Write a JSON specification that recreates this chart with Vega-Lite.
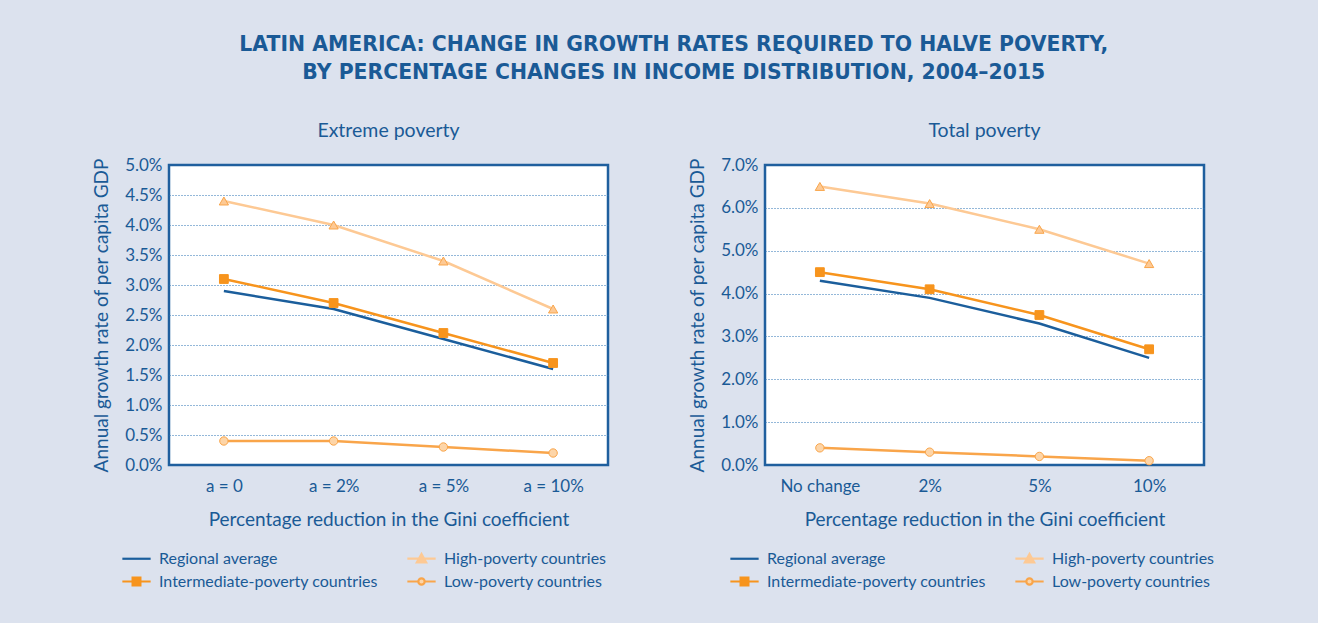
{
  "$schema": "https://vega.github.io/schema/vega-lite/v6.json",
  "padding": {"left": 91, "top": 34, "right": 106, "bottom": 33},
  "background": "#dce2ee",
  "title": {
    "text": ["LATIN AMERICA: CHANGE IN GROWTH RATES REQUIRED TO HALVE POVERTY,", "BY PERCENTAGE CHANGES IN INCOME DISTRIBUTION, 2004–2015"],
    "fontSize": 20.4, "font": "DejaVu Sans", "fontWeight": "bold", "color": "#1a5a96",
    "lineHeight": 28, "anchor": "middle", "offset": 36, "dx": 20
  },
  "datasets": {
    "extreme": [
      {"reduction": "a = 0", "series": "Regional average", "value": 2.9},
      {"reduction": "a = 2%", "series": "Regional average", "value": 2.6},
      {"reduction": "a = 5%", "series": "Regional average", "value": 2.1},
      {"reduction": "a = 10%", "series": "Regional average", "value": 1.6},
      {"reduction": "a = 0", "series": "Intermediate-poverty countries", "value": 3.1},
      {"reduction": "a = 2%", "series": "Intermediate-poverty countries", "value": 2.7},
      {"reduction": "a = 5%", "series": "Intermediate-poverty countries", "value": 2.2},
      {"reduction": "a = 10%", "series": "Intermediate-poverty countries", "value": 1.7},
      {"reduction": "a = 0", "series": "High-poverty countries", "value": 4.4},
      {"reduction": "a = 2%", "series": "High-poverty countries", "value": 4.0},
      {"reduction": "a = 5%", "series": "High-poverty countries", "value": 3.4},
      {"reduction": "a = 10%", "series": "High-poverty countries", "value": 2.6},
      {"reduction": "a = 0", "series": "Low-poverty countries", "value": 0.4},
      {"reduction": "a = 2%", "series": "Low-poverty countries", "value": 0.4},
      {"reduction": "a = 5%", "series": "Low-poverty countries", "value": 0.3},
      {"reduction": "a = 10%", "series": "Low-poverty countries", "value": 0.2}
    ],
    "total": [
      {"reduction": "No change", "series": "Regional average", "value": 4.3},
      {"reduction": "2%", "series": "Regional average", "value": 3.9},
      {"reduction": "5%", "series": "Regional average", "value": 3.3},
      {"reduction": "10%", "series": "Regional average", "value": 2.5},
      {"reduction": "No change", "series": "Intermediate-poverty countries", "value": 4.5},
      {"reduction": "2%", "series": "Intermediate-poverty countries", "value": 4.1},
      {"reduction": "5%", "series": "Intermediate-poverty countries", "value": 3.5},
      {"reduction": "10%", "series": "Intermediate-poverty countries", "value": 2.7},
      {"reduction": "No change", "series": "High-poverty countries", "value": 6.5},
      {"reduction": "2%", "series": "High-poverty countries", "value": 6.1},
      {"reduction": "5%", "series": "High-poverty countries", "value": 5.5},
      {"reduction": "10%", "series": "High-poverty countries", "value": 4.7},
      {"reduction": "No change", "series": "Low-poverty countries", "value": 0.4},
      {"reduction": "2%", "series": "Low-poverty countries", "value": 0.3},
      {"reduction": "5%", "series": "Low-poverty countries", "value": 0.2},
      {"reduction": "10%", "series": "Low-poverty countries", "value": 0.1}
    ]
  },
  "spacing": 77,
  "resolve": {"scale": {"color": "independent", "y": "independent", "x": "independent"}},
  "hconcat": [
    {
      "width": 439, "height": 300,
      "title": {"text": "Extreme poverty", "fontSize": 19.5, "fontWeight": "normal", "color": "#1a5a96", "font": "Lato", "offset": 15},
      "data": {"name": "extreme"},
      "encoding": {
        "x": {"field": "reduction", "type": "ordinal", "sort": ["a = 0", "a = 2%", "a = 5%", "a = 10%"], "scale": {"type": "point", "padding": 0.5},
          "axis": {"title": "Percentage reduction in the Gini coefficient", "labelAngle": 0, "grid": false, "labelPadding": 13, "titlePadding": 16}},
        "y": {"field": "value", "type": "quantitative", "scale": {"domain": [0, 5], "nice": false},
          "axis": {"title": "Annual growth rate of per capita GDP", "values": [0, 0.5, 1, 1.5, 2, 2.5, 3, 3.5, 4, 4.5, 5], "labelExpr": "format(datum.value, '.1f') + '%'", "labelPadding": 7, "titlePadding": 13,
            "gridOpacity": {"condition": {"test": "datum.value === 0 || datum.value === 5", "value": 0}, "value": 1}}}
      },
      "layer": [
        {
          "mark": {"type": "line", "strokeWidth": 2.5},
          "encoding": {
            "color": {"field": "series", "type": "nominal",
              "scale": {"domain": ["Regional average", "Intermediate-poverty countries", "High-poverty countries", "Low-poverty countries"], "range": ["#1b5e9c", "#f7941d", "#fdc994", "#f9a54a"]},
              "legend": {"title": null, "orient": "none", "legendX": -41, "legendY": 385, "columns": 2, "columnPadding": 24, "rowPadding": 6, "symbolSize": 200, "labelOffset": 14, "labelFontSize": 16, "labelLimit": 400, "labelColor": "#1a5a96", "labelFont": "Lato", "padding": 0,
                "encode": {"symbols": {"update": {
                  "shape": {"signal": "datum.value === 'Regional average' ? 'M-2,0H2' : datum.value === 'Intermediate-poverty countries' ? 'M-2,0H2M-0.55,-0.55H0.55V0.55H-0.55Z' : datum.value === 'High-poverty countries' ? 'M-2,0H-0.36M0.36,0H2M0,-0.65L0.66,0.55H-0.66Z' : 'M-2,0H-0.45M0.45,0H2M-0.45,0A0.45,0.45 0 1,1 0.45,0A0.45,0.45 0 1,1 -0.45,0Z'"},
                  "fill": {"signal": "datum.value === 'Regional average' ? 'transparent' : datum.value === 'Intermediate-poverty countries' ? '#f7941d' : datum.value === 'High-poverty countries' ? '#fdc994' : '#fdd5a8'"},
                  "stroke": {"signal": "datum.value === 'Regional average' ? '#1b5e9c' : datum.value === 'Intermediate-poverty countries' ? '#f7941d' : datum.value === 'High-poverty countries' ? '#fcc08a' : '#f9a54a'"},
                  "strokeWidth": {"value": 2.2},
                  "opacity": {"value": 1}
                }}}}
            },
            "strokeWidth": {"field": "series", "type": "nominal", "scale": {"domain": ["Regional average", "Intermediate-poverty countries", "High-poverty countries", "Low-poverty countries"], "range": [2.6, 2.6, 2.2, 2.2]}, "legend": null}
          }
        },
        {
          "transform": [{"filter": "datum.series !== 'Regional average'"}],
          "mark": {"type": "point", "filled": true, "strokeWidth": 1, "opacity": 1},
          "encoding": {
            "shape": {"field": "series", "type": "nominal", "scale": {"domain": ["High-poverty countries", "Intermediate-poverty countries", "Low-poverty countries"], "range": ["triangle-up", "square", "circle"]}, "legend": null},
            "fill": {"field": "series", "type": "nominal", "scale": {"domain": ["High-poverty countries", "Intermediate-poverty countries", "Low-poverty countries"], "range": ["#fdc994", "#f7941d", "#fdd5a8"]}, "legend": null},
            "stroke": {"field": "series", "type": "nominal", "scale": {"domain": ["High-poverty countries", "Intermediate-poverty countries", "Low-poverty countries"], "range": ["#f9a54a", "#f7941d", "#f9a54a"]}, "legend": null},
            "size": {"field": "series", "type": "nominal", "scale": {"domain": ["High-poverty countries", "Intermediate-poverty countries", "Low-poverty countries"], "range": [85, 70, 50]}, "legend": null}
          }
        }
      ]
    },
    {
      "width": 439, "height": 300,
      "title": {"text": "Total poverty", "fontSize": 19.5, "fontWeight": "normal", "color": "#1a5a96", "font": "Lato", "offset": 15},
      "data": {"name": "total"},
      "encoding": {
        "x": {"field": "reduction", "type": "ordinal", "sort": ["No change", "2%", "5%", "10%"], "scale": {"type": "point", "padding": 0.5},
          "axis": {"title": "Percentage reduction in the Gini coefficient", "labelAngle": 0, "grid": false, "labelPadding": 13, "titlePadding": 16}},
        "y": {"field": "value", "type": "quantitative", "scale": {"domain": [0, 7], "nice": false},
          "axis": {"title": "Annual growth rate of per capita GDP", "values": [0, 1, 2, 3, 4, 5, 6, 7], "labelExpr": "format(datum.value, '.1f') + '%'", "labelPadding": 7, "titlePadding": 13,
            "gridOpacity": {"condition": {"test": "datum.value === 0 || datum.value === 7", "value": 0}, "value": 1}}}
      },
      "layer": [
        {
          "mark": {"type": "line", "strokeWidth": 2.5},
          "encoding": {
            "color": {"field": "series", "type": "nominal",
              "scale": {"domain": ["Regional average", "Intermediate-poverty countries", "High-poverty countries", "Low-poverty countries"], "range": ["#1b5e9c", "#f7941d", "#fdc994", "#f9a54a"]},
              "legend": {"title": null, "orient": "none", "legendX": -29, "legendY": 385, "columns": 2, "columnPadding": 24, "rowPadding": 6, "symbolSize": 200, "labelOffset": 14, "labelFontSize": 16, "labelLimit": 400, "labelColor": "#1a5a96", "labelFont": "Lato", "padding": 0,
                "encode": {"symbols": {"update": {
                  "shape": {"signal": "datum.value === 'Regional average' ? 'M-2,0H2' : datum.value === 'Intermediate-poverty countries' ? 'M-2,0H2M-0.55,-0.55H0.55V0.55H-0.55Z' : datum.value === 'High-poverty countries' ? 'M-2,0H-0.36M0.36,0H2M0,-0.65L0.66,0.55H-0.66Z' : 'M-2,0H-0.45M0.45,0H2M-0.45,0A0.45,0.45 0 1,1 0.45,0A0.45,0.45 0 1,1 -0.45,0Z'"},
                  "fill": {"signal": "datum.value === 'Regional average' ? 'transparent' : datum.value === 'Intermediate-poverty countries' ? '#f7941d' : datum.value === 'High-poverty countries' ? '#fdc994' : '#fdd5a8'"},
                  "stroke": {"signal": "datum.value === 'Regional average' ? '#1b5e9c' : datum.value === 'Intermediate-poverty countries' ? '#f7941d' : datum.value === 'High-poverty countries' ? '#fcc08a' : '#f9a54a'"},
                  "strokeWidth": {"value": 2.2},
                  "opacity": {"value": 1}
                }}}}
            },
            "strokeWidth": {"field": "series", "type": "nominal", "scale": {"domain": ["Regional average", "Intermediate-poverty countries", "High-poverty countries", "Low-poverty countries"], "range": [2.6, 2.6, 2.2, 2.2]}, "legend": null}
          }
        },
        {
          "transform": [{"filter": "datum.series !== 'Regional average'"}],
          "mark": {"type": "point", "filled": true, "strokeWidth": 1, "opacity": 1},
          "encoding": {
            "shape": {"field": "series", "type": "nominal", "scale": {"domain": ["High-poverty countries", "Intermediate-poverty countries", "Low-poverty countries"], "range": ["triangle-up", "square", "circle"]}, "legend": null},
            "fill": {"field": "series", "type": "nominal", "scale": {"domain": ["High-poverty countries", "Intermediate-poverty countries", "Low-poverty countries"], "range": ["#fdc994", "#f7941d", "#fdd5a8"]}, "legend": null},
            "stroke": {"field": "series", "type": "nominal", "scale": {"domain": ["High-poverty countries", "Intermediate-poverty countries", "Low-poverty countries"], "range": ["#f9a54a", "#f7941d", "#f9a54a"]}, "legend": null},
            "size": {"field": "series", "type": "nominal", "scale": {"domain": ["High-poverty countries", "Intermediate-poverty countries", "Low-poverty countries"], "range": [85, 70, 50]}, "legend": null}
          }
        }
      ]
    }
  ],
  "config": {
    "font": "Lato",
    "view": {"fill": "white", "stroke": "#1f5f9e", "strokeWidth": 2.5},
    "axis": {"domain": false, "ticks": false, "tickSize": 0, "labelColor": "#1a5a96", "titleColor": "#1a5a96", "labelFont": "Lato", "titleFont": "Lato", "labelFontSize": 17, "titleFontSize": 19, "titleFontWeight": "normal", "gridColor": "#2a73b4", "gridDash": [1, 2], "gridWidth": 1.2}
  }
}
